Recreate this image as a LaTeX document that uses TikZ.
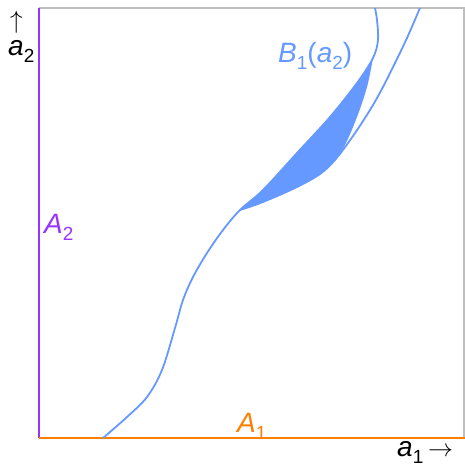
\documentclass[tikz,border=0pt]{standalone}
\usepackage{fontspec}
\setmainfont{Liberation Sans}
\definecolor{cblue}{RGB}{102,153,255}
\definecolor{cpurple}{RGB}{153,51,255}
\definecolor{corange}{RGB}{255,128,0}
\definecolor{cgray}{RGB}{190,190,190}
\newcommand\mysub[1]{\raisebox{-0.28em}{\fontsize{19}{20}\selectfont #1}}
\begin{document}
\begin{tikzpicture}[x=1pt,y=-1pt,
  lbl/.style={anchor=base west,inner sep=0pt,font=\fontsize{28}{30}\selectfont},
  curve/.style={draw=cblue,line width=1.8pt}]
\useasboundingbox (0,0) rectangle (465,467);
\coordinate (TL) at (39,8);
\coordinate (TR) at (464,8);
\coordinate (O) at (39,438);
\coordinate (BR) at (465,438);
\draw[cgray,line width=1.6pt] (TL) -- (TR) -- (TR |- BR);
\draw[cpurple,line width=2.6pt] (TL) -- (O);
\draw[corange,line width=2.6pt] (O) -- (BR);
% filled region
\fill[cblue] plot[smooth,tension=0.6] coordinates {(240,210) (263,190) (297,153) (330,117) (357,83) (373,58)}
  -- plot[smooth,tension=0.6] coordinates {(373,58) (367,87) (357,117) (345,145) (335,160)}
  -- plot[smooth,tension=0.6] coordinates {(335,160) (320,174) (297,187) (263,202) (240,210)} -- cycle;
% main curve
\draw[curve] plot[smooth,tension=0.55] coordinates {(103,438) (127,417) (147,397) (162,370) (175,328) (183,300) (193,277) (207,253) (223,230) (240,210) (263,190) (297,153) (330,117) (357,83) (373,58) (378,40) (377,20) (375,8)};
% second curve
\draw[curve] plot[smooth,tension=0.55] coordinates {(240,210) (263,202) (297,187) (320,174) (335,160) (353,136) (370,110) (383,87) (395,63) (407,38) (420,8)};
% labels
\node[lbl] (up) at (10,28) {$\uparrow$};
\node[lbl] (a2) at (8,55) {\textit{a}\mysub{2}};
\node[lbl,text=cpurple] (A2) at (44,233) {\textit{A}\mysub{2}};
\node[lbl,text=corange] (A1) at (237,432) {\textit{A}\mysub{1}};
\node[lbl,text=cblue] (B1) at (278,62) {\textit{B}\mysub{1}(\textit{a}\mysub{2})};
\node[lbl] (a1) at (397,456) {\textit{a}\mysub{1}\,$\rightarrow$};
\end{tikzpicture}
\end{document}
